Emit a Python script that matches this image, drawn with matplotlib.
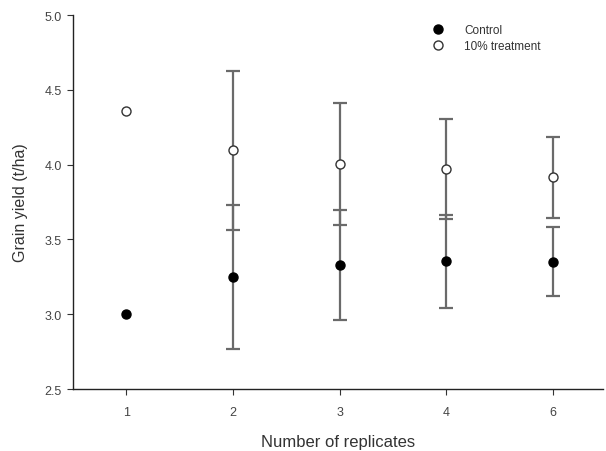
import matplotlib
matplotlib.use("Agg")
import matplotlib.pyplot as plt
import numpy as np

plt.rcParams['font.family'] = ['Liberation Sans', 'DejaVu Sans']

categories = ["1", "2", "3", "4", "6"]
control = [3.00, 3.25, 3.33, 3.355, 3.35]
control_err = [np.nan, 0.48, 0.37, 0.31, 0.23]
treatment = [4.36, 4.095, 4.005, 3.97, 3.915]
treatment_err = [np.nan, 0.53, 0.41, 0.335, 0.27]

fig = plt.figure(figsize=(6.06, 4.52), dpi=100)
ax = fig.add_axes([0.1205, 0.137, 0.875, 0.8276])
x = np.arange(len(categories))

ecol = '#6a6a6a'
ax.errorbar(x, control, yerr=control_err, fmt='none', ecolor=ecol, elinewidth=1.6,
            capsize=5, capthick=1.6, zorder=1)
ax.errorbar(x, treatment, yerr=treatment_err, fmt='none', ecolor=ecol, elinewidth=1.6,
            capsize=5, capthick=1.6, zorder=1)
ax.plot(x, control, 'o', color='black', markersize=6.5, linestyle='none', label='Control', zorder=3)
ax.plot(x, treatment, 'o', markerfacecolor='white', markeredgecolor='#333333', markeredgewidth=1.0,
        markersize=6.5, linestyle='none', label='10% treatment', zorder=3)

ax.set_xlim(-0.5, 4.47)
ax.set_ylim(2.5, 5.0)
ax.set_xticks(x)
ax.set_xticklabels(categories)
ax.set_yticks([2.5, 3.0, 3.5, 4.0, 4.5, 5.0])
ax.set_yticklabels(["2.5", "3.0", "3.5", "4.0", "4.5", "5.0"])
ax.tick_params(axis='both', labelsize=9, colors='#333333', length=4, width=0.8, labelcolor='#444444')
ax.tick_params(axis='x', pad=8)
ax.tick_params(axis='y', pad=4)
ax.spines['top'].set_visible(False)
ax.spines['right'].set_visible(False)
for s in ['left', 'bottom']:
    ax.spines[s].set_color('#222222')
    ax.spines[s].set_linewidth(1.0)

ax.set_xlabel("Number of replicates", fontsize=12, color='#333333', labelpad=12)
ax.set_ylabel("Grain yield (t/ha)", fontsize=11.5, color='#333333', labelpad=12)

leg = ax.legend(loc='upper left', bbox_to_anchor=(0.662, 0.998), frameon=False, fontsize=8.5,
                handletextpad=1.7, labelspacing=0.38, handlelength=1.0, borderaxespad=0.3)
for t in leg.get_texts():
    t.set_color('#333333')

fig.savefig("out.png", dpi=100)
